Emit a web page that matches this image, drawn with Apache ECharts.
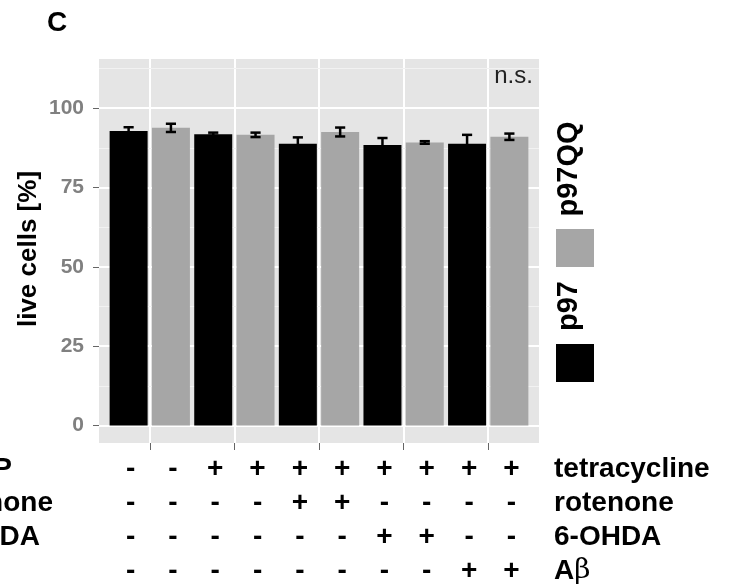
<!DOCTYPE html>
<html><head><meta charset="utf-8">
<script src="https://cdn.jsdelivr.net/npm/echarts@6/dist/echarts.min.js"></script>
<style>html,body{margin:0;padding:0;background:#fff}#c{width:733px;height:588px}</style>
</head><body><div id="c"></div>
<script>
// ---- data ----
const groups = [1, 2, 3, 4, 5];               // treatment groups (x positions of pairs)
const seriesNames = ['p97', 'p97QQ'];
const p97Mean   = [92.8, 91.8, 88.8, 88.4, 88.8];
const p97Err    = [1.2, 0.5, 2.0, 2.2, 2.8];
const p97qqMean = [93.8, 91.6, 92.5, 89.2, 91.0];
const p97qqErr  = [1.3, 0.7, 1.4, 0.4, 1.0];
const yTicks = [0, 25, 50, 75, 100];
const yMinorTicks = [12.5, 37.5, 62.5, 87.5, 112.5];
const rowLabels = ['tetracycline', 'rotenone', '6-OHDA', 'Aβ'];
const tetracycline = ['-','-','+','+','+','+','+','+','+','+'];
const rotenone     = ['-','-','-','-','+','+','-','-','-','-'];
const ohda         = ['-','-','-','-','-','-','+','+','-','-'];
const abeta        = ['-','-','-','-','-','-','-','-','+','+'];
const leftRowLabels = ['P', 'rotenone', '6-OHDA'];
const nsLabel = 'n.s.';
const nsPos = [5.3, 110];

const FONT = '"Liberation Sans", Arial, sans-serif';
const dodge = 0.25;
const p97Data = groups.map((g, i) => [g - dodge, p97Mean[i]]);
const qqData  = groups.map((g, i) => [g + dodge, p97qqMean[i]]);
const errData = groups.map((g, i) => [g - dodge, p97Mean[i] - p97Err[i], p97Mean[i] + p97Err[i]])
  .concat(groups.map((g, i) => [g + dodge, p97qqMean[i] - p97qqErr[i], p97qqMean[i] + p97qqErr[i]]));

const chart = echarts.init(document.getElementById('c'), null, {renderer: 'canvas'});

const option = {
  animation: false,
  backgroundColor: '#ffffff',
  grid: {left: 99, top: 59, right: 194, bottom: 145, show: true, backgroundColor: '#e5e5e5', borderWidth: 0},
  xAxis: {
    type: 'value', min: 0.4, max: 5.6,
    axisLine: {show: false, onZero: false},
    axisTick: {show: true, length: 7, customValues: groups, lineStyle: {color: '#666', width: 1}},
    axisLabel: {show: false, customValues: groups},
    splitLine: {show: true, lineStyle: {color: '#ffffff', width: 2}}
  },
  yAxis: {
    type: 'value', min: -5.5, max: 115.5,
    axisLine: {show: false, onZero: false},
    axisTick: {show: true, length: 6, customValues: yTicks, lineStyle: {color: '#666', width: 1}},
    axisLabel: {show: true, customValues: yTicks, margin: 15, color: '#808080', fontSize: 21, fontWeight: 'bold', fontFamily: FONT},
    splitLine: {show: true, lineStyle: {color: '#ffffff', width: 2}}
  },
  series: [
    {
      name: seriesNames[0], type: 'bar', data: p97Data, barWidth: 38, barGap: '-100%',
      itemStyle: {color: '#000000'}, z: 3,
      markLine: {
        silent: true, z: 1, symbol: ['none', 'none'], label: {show: false},
        lineStyle: {color: '#f2f2f2', width: 1, type: 'solid'},
        data: yMinorTicks.map(v => ({yAxis: v}))
      }
    },
    {
      name: seriesNames[1], type: 'bar', data: qqData, barWidth: 38, barGap: '-100%',
      itemStyle: {color: '#a6a6a6'}, z: 3,
      markPoint: {
        silent: true, symbol: 'circle', symbolSize: 0,
        label: {show: true, position: 'inside', formatter: nsLabel, color: '#222', fontSize: 24, fontFamily: FONT},
        data: [{coord: nsPos}]
      }
    },
    {
      type: 'custom', data: errData, z: 4,
      renderItem: function (params, api) {
        const x = api.value(0), lo = api.value(1), hi = api.value(2);
        const t = api.coord([x, hi]), b = api.coord([x, lo]);
        const hw = api.size([0.06, 0])[0];
        const st = {stroke: '#000', lineWidth: 2.5};
        return {type: 'group', children: [
          {type: 'line', shape: {x1: t[0], y1: t[1], x2: b[0], y2: b[1]}, style: st},
          {type: 'line', shape: {x1: t[0] - hw, y1: t[1], x2: t[0] + hw, y2: t[1]}, style: st},
          {type: 'line', shape: {x1: b[0] - hw, y1: b[1], x2: b[0] + hw, y2: b[1]}, style: st}
        ]};
      }
    }
  ]
};
chart.setOption(option);

// ---- annotations (text table, legend, titles) ----
const rows = [tetracycline, rotenone, ohda, abeta];
const rowY = [469, 503, 537, 571];
const LBL = 'bold 28px ' + FONT;
const barX = [];
groups.forEach(g => { barX.push(g - dodge); barX.push(g + dodge); });
const gfx = [];
rows.forEach((row, r) => {
  row.forEach((s, i) => {
    const px = chart.convertToPixel({xAxisIndex: 0}, barX[i]);
    gfx.push({type: 'text', x: px + 2, y: rowY[r], style: {text: s, font: LBL, fill: '#000', align: 'center', verticalAlign: 'middle'}});
  });
});
rowLabels.forEach((t, r) => {
  if (t === 'Aβ') {
    gfx.push({type: 'text', x: 554, y: rowY[r], style: {text: '{a|A}{b|β}', align: 'left', verticalAlign: 'middle',
      rich: {a: {fontSize: 28, fontWeight: 'bold', fontFamily: FONT, fill: '#000'},
             b: {fontSize: 28, fontFamily: '"DejaVu Serif", "Liberation Serif", serif', fill: '#000'}}}});
  } else {
    gfx.push({type: 'text', x: 554, y: rowY[r], style: {text: t, font: LBL, fill: '#000', align: 'left', verticalAlign: 'middle'}});
  }
});
// cut-off labels from neighbouring panel
gfx.push({type: 'text', x: 12, y: rowY[0], style: {text: leftRowLabels[0], font: LBL, fill: '#000', align: 'right', verticalAlign: 'middle'}});
gfx.push({type: 'text', x: 53, y: rowY[1], style: {text: leftRowLabels[1], font: LBL, fill: '#000', align: 'right', verticalAlign: 'middle'}});
gfx.push({type: 'text', x: 40, y: rowY[2], style: {text: leftRowLabels[2], font: LBL, fill: '#000', align: 'right', verticalAlign: 'middle'}});
// panel letter
gfx.push({type: 'text', x: 47, y: 23, style: {text: 'C', font: 'bold 28px ' + FONT, fill: '#000', align: 'left', verticalAlign: 'middle'}});
// y axis title
gfx.push({type: 'text', x: 29, y: 249, rotation: Math.PI / 2, style: {text: 'live cells [%]', font: 'bold 26px ' + FONT, fill: '#000', align: 'center', verticalAlign: 'middle'}});
// legend
gfx.push({type: 'rect', shape: {x: 556, y: 229, width: 38, height: 38}, style: {fill: '#a6a6a6'}});
gfx.push({type: 'rect', shape: {x: 556, y: 344, width: 38, height: 38}, style: {fill: '#000000'}});
gfx.push({type: 'text', x: 569, y: 169, rotation: Math.PI / 2, style: {text: seriesNames[1], font: 'bold 29px ' + FONT, fill: '#000', align: 'center', verticalAlign: 'middle'}});
gfx.push({type: 'text', x: 569, y: 306, rotation: Math.PI / 2, style: {text: seriesNames[0], font: 'bold 29px ' + FONT, fill: '#000', align: 'center', verticalAlign: 'middle'}});

chart.setOption({graphic: gfx});
</script>
</body></html>
